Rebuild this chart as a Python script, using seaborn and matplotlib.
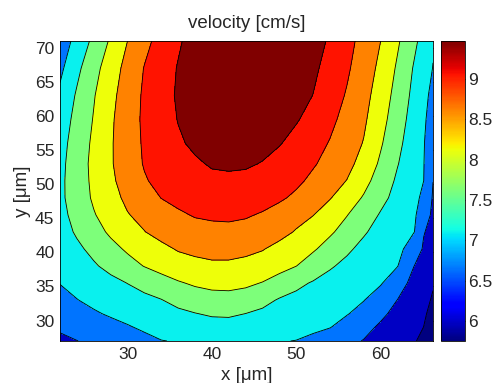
import numpy as np
import seaborn as sns
import matplotlib.pyplot as plt

# grid nodes (um) and velocity (cm/s)
x_um = [22, 24, 26, 28, 30, 32, 34, 36, 38, 40, 42, 44, 46, 48, 50, 52, 54, 56, 58, 60, 62, 64, 65.1, 66.2]
y_um = [27, 29, 31, 33, 35.5, 38, 40.5, 43, 45.5, 48, 50.5, 53, 56, 59.5, 63, 67, 71]

velocity = [
    [6.48, 6.57, 6.66, 6.74, 6.82, 6.90, 6.98, 7.01, 7.03, 7.04, 7.04, 7.04, 7.03, 7.01, 6.98, 6.88, 6.77, 6.67, 6.56, 6.44, 6.32, 6.20, 6.03, 5.75],  # y=27
    [6.64, 6.72, 6.80, 6.88, 6.96, 7.04, 7.12, 7.18, 7.22, 7.24, 7.25, 7.24, 7.22, 7.19, 7.14, 7.08, 7.00, 6.84, 6.68, 6.52, 6.38, 6.24, 6.16, 5.94],  # y=29
    [6.76, 6.86, 6.95, 7.03, 7.10, 7.18, 7.25, 7.32, 7.39, 7.45, 7.46, 7.40, 7.33, 7.27, 7.20, 7.14, 7.08, 7.01, 6.86, 6.65, 6.47, 6.30, 6.20, 6.08],  # y=31
    [6.87, 6.98, 7.07, 7.15, 7.23, 7.31, 7.39, 7.52, 7.61, 7.67, 7.68, 7.63, 7.51, 7.37, 7.30, 7.22, 7.15, 7.08, 7.00, 6.80, 6.57, 6.36, 6.25, 6.13],  # y=33
    [7.00, 7.10, 7.20, 7.30, 7.41, 7.53, 7.65, 7.78, 7.87, 7.92, 7.93, 7.89, 7.80, 7.65, 7.49, 7.37, 7.28, 7.19, 7.11, 7.02, 6.75, 6.45, 6.32, 6.19],  # y=35.5
    [7.10, 7.23, 7.36, 7.51, 7.68, 7.83, 7.96, 8.06, 8.12, 8.16, 8.16, 8.12, 8.06, 7.95, 7.82, 7.63, 7.44, 7.32, 7.21, 7.11, 7.00, 6.57, 6.42, 6.28],  # y=38
    [7.18, 7.33, 7.50, 7.70, 7.87, 8.01, 8.14, 8.26, 8.32, 8.36, 8.36, 8.32, 8.25, 8.12, 7.99, 7.86, 7.67, 7.46, 7.31, 7.19, 7.07, 6.84, 6.52, 6.37],  # y=40.5
    [7.24, 7.45, 7.67, 7.88, 8.05, 8.22, 8.35, 8.44, 8.51, 8.54, 8.55, 8.52, 8.45, 8.35, 8.20, 8.04, 7.87, 7.67, 7.44, 7.28, 7.14, 6.99, 6.60, 6.44],  # y=43
    [7.29, 7.53, 7.79, 8.00, 8.21, 8.34, 8.47, 8.59, 8.67, 8.70, 8.71, 8.68, 8.61, 8.49, 8.36, 8.24, 8.04, 7.83, 7.60, 7.37, 7.21, 7.04, 6.77, 6.50],  # y=45.5
    [7.32, 7.60, 7.87, 8.10, 8.31, 8.48, 8.65, 8.74, 8.81, 8.84, 8.85, 8.83, 8.78, 8.70, 8.57, 8.41, 8.25, 8.02, 7.78, 7.51, 7.28, 7.08, 6.91, 6.54],  # y=48
    [7.32, 7.61, 7.90, 8.16, 8.39, 8.61, 8.75, 8.86, 8.93, 8.98, 8.99, 8.97, 8.92, 8.84, 8.72, 8.56, 8.39, 8.22, 7.94, 7.64, 7.34, 7.12, 6.99, 6.58],  # y=50.5
    [7.30, 7.61, 7.92, 8.19, 8.45, 8.67, 8.79, 8.90, 9.01, 9.09, 9.11, 9.10, 9.04, 8.92, 8.80, 8.68, 8.52, 8.34, 8.09, 7.75, 7.42, 7.15, 7.00, 6.68],  # y=53
    [7.26, 7.58, 7.89, 8.19, 8.46, 8.69, 8.85, 9.01, 9.12, 9.19, 9.22, 9.21, 9.16, 9.08, 8.93, 8.78, 8.62, 8.42, 8.21, 7.86, 7.50, 7.18, 7.01, 6.76],  # y=56
    [7.19, 7.52, 7.84, 8.17, 8.46, 8.71, 8.89, 9.07, 9.19, 9.27, 9.31, 9.32, 9.28, 9.21, 9.09, 8.92, 8.73, 8.52, 8.29, 7.96, 7.59, 7.23, 7.04, 6.84],  # y=59.5
    [7.07, 7.45, 7.79, 8.12, 8.43, 8.70, 8.91, 9.10, 9.24, 9.33, 9.39, 9.40, 9.37, 9.31, 9.20, 9.05, 8.83, 8.61, 8.36, 8.04, 7.67, 7.29, 7.08, 6.90],  # y=63
    [6.90, 7.31, 7.68, 8.03, 8.36, 8.66, 8.87, 9.08, 9.24, 9.35, 9.42, 9.45, 9.43, 9.38, 9.27, 9.13, 8.92, 8.70, 8.43, 8.14, 7.76, 7.36, 7.16, 6.98],  # y=67
    [6.75, 7.12, 7.50, 7.87, 8.23, 8.53, 8.79, 9.01, 9.20, 9.33, 9.42, 9.46, 9.46, 9.42, 9.33, 9.20, 9.01, 8.77, 8.51, 8.23, 7.87, 7.48, 7.26, 7.03],  # y=71
]

v_min, v_max = 5.75, 9.47
n_levels = 8
# position in the jet map of each filled band, lowest band first
band_cmap_pos = [0.0, 0.06, 0.24, 0.36, 0.5, 0.64, 0.77, 0.89, 1.0]
x_ticks = [30, 40, 50, 60]
y_ticks = [30, 35, 40, 45, 50, 55, 60, 65, 70]
cbar_ticks = [6, 6.5, 7, 7.5, 8, 8.5, 9]
cbar_labels = ['6', '6.5', '7', '7.5', '8', '8.5', '9']

sns.set_style("white", {"axes.edgecolor": "black"})
plt.rcParams['font.family'] = ['Liberation Sans', 'DejaVu Sans']

X, Y = np.meshgrid(x_um, y_um)
V = np.array(velocity)

levels = np.linspace(v_min, v_max, n_levels + 2)
fill_colors = plt.cm.jet(band_cmap_pos)

fig = plt.figure(figsize=(4.95, 3.83), dpi=100)
ax = fig.add_axes([60 / 495, 42 / 383, 373 / 495, 300 / 383])
cax = fig.add_axes([441 / 495, 42 / 383, 24 / 495, 300 / 383])

ax.contourf(X, Y, V, levels=levels, colors=fill_colors)
ax.contour(X, Y, V, levels=levels[1:-1], colors='k', linewidths=0.6)

ax.set_xlim(22, 66.2)
ax.set_ylim(27, 71)
ax.set_xticks(x_ticks)
ax.set_yticks(y_ticks)
ax.tick_params(direction='in', top=True, right=True, length=4, width=0.6,
               labelsize=12.5, pad=4)
for s in ax.spines.values():
    s.set_linewidth(0.6)
ax.set_xlabel('x [μm]', fontsize=13.5, labelpad=4)
ax.set_ylabel('y [μm]', fontsize=13.5, labelpad=3)
ax.set_title('velocity [cm/s]', fontsize=13.5, pad=9)

sm = plt.cm.ScalarMappable(norm=plt.Normalize(v_min, v_max), cmap='jet')
cb = fig.colorbar(sm, cax=cax)
cb.set_ticks(cbar_ticks)
cb.set_ticklabels(cbar_labels)
cb.outline.set_linewidth(0.6)
cax.tick_params(direction='in', length=3, width=0.6, labelsize=12.5, pad=2)

fig.savefig('out.png', dpi=100)
